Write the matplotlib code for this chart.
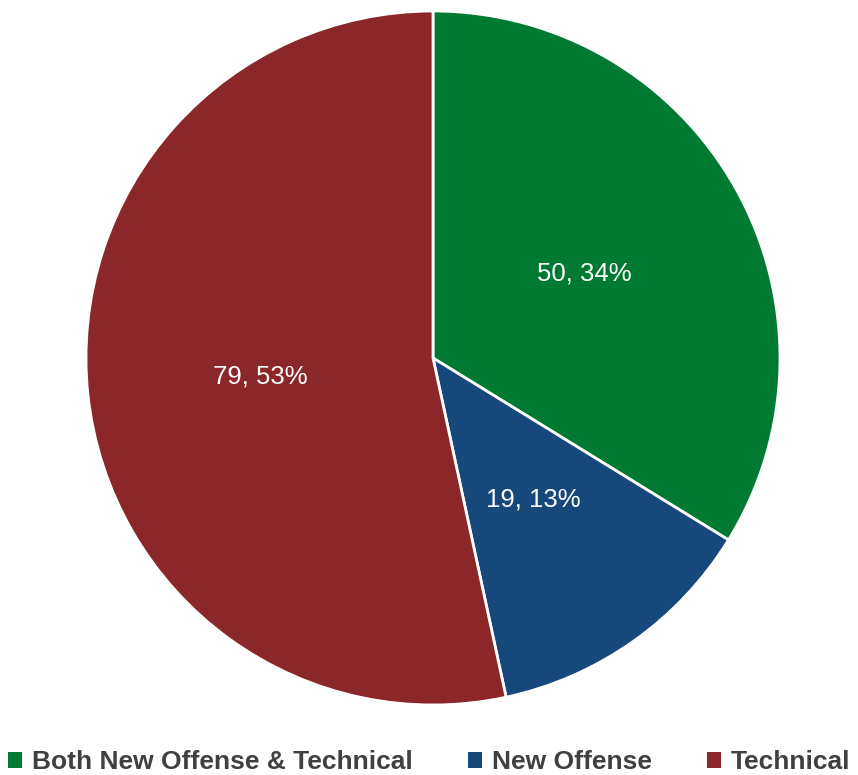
import matplotlib
matplotlib.use("Agg")
import matplotlib.pyplot as plt
from matplotlib.patches import Patch

categories = ["Both New Offense & Technical", "New Offense", "Technical"]
counts = [50, 19, 79]
colors = ["#007A33", "#17487B", "#8B2729"]

plt.rcParams['font.family'] = ['Liberation Sans', 'DejaVu Sans']

fig = plt.figure(figsize=(8.58, 7.75), dpi=100)
ax = fig.add_axes([86 / 858, 70 / 775, 694 / 858, 694 / 775])

total = sum(counts)
wedges, texts, autotexts = ax.pie(
    counts, colors=colors, startangle=90, counterclock=False, radius=1,
    autopct=lambda p: f"{round(p * total / 100)}, {p:.0f}%", pctdistance=0.5,
    wedgeprops=dict(edgecolor="white", linewidth=2),
    textprops=dict(color="white", fontsize=18.5))
ax.set_xlim(-1, 1)
ax.set_ylim(-1, 1)
ax.set_aspect("equal")
ax.axis("off")

handles = [Patch(facecolor=c, label=l) for c, l in zip(colors, categories)]
fig.legend(handles=handles, loc="center", bbox_to_anchor=(0.5, 1 - 762 / 775),
           ncol=3, frameon=False, handlelength=0.55, handleheight=0.55,
           handletextpad=0.35, columnspacing=2.1,
           prop=dict(size=19, weight="bold"), labelcolor="#404040")

fig.savefig("out.png", dpi=100)
